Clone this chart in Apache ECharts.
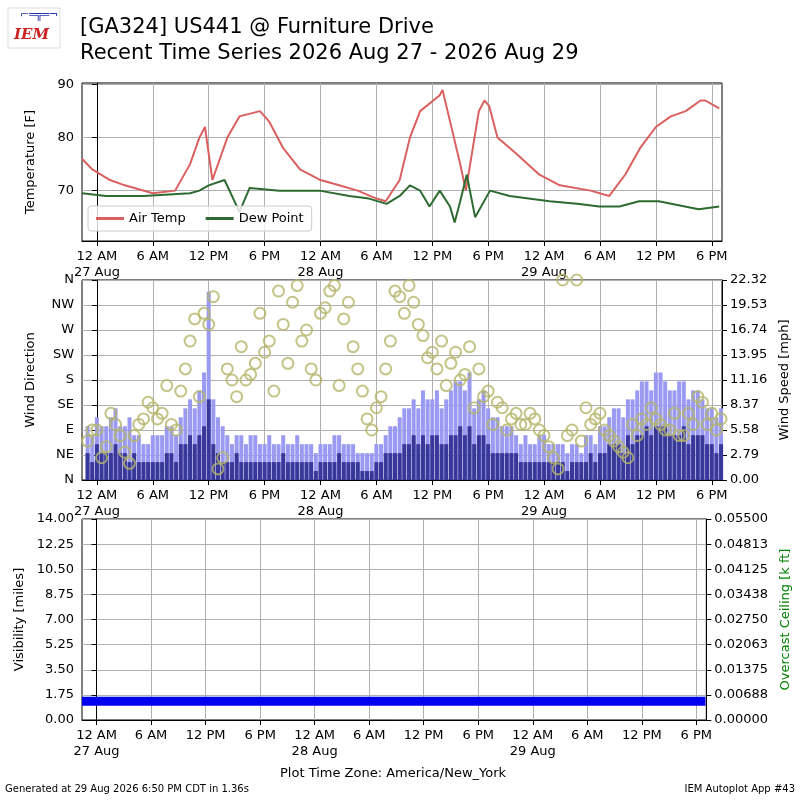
<!DOCTYPE html>
<html><head><meta charset="utf-8">
<script src="https://cdn.jsdelivr.net/npm/echarts@6/dist/echarts.min.js"></script>
<style>body{margin:0}#c{width:800px;height:800px}</style></head>
<body><div id="c"></div>
<script>
// hours relative to 27 Aug 00:00 America/New_York
const tempTimes=[-1.6,-0.5,1.4,3,6,8.4,10,11,11.6,12.4,14,15.3,17.5,18.5,20,21.8,24,26,28,30,31,32.5,33.6,34.7,36.8,37.1,39,39.6,41,41.6,42.1,43,45,47.5,49.7,53,55,56.7,58.3,60,61.6,63.2,64.8,65.3,66.8];
const airTemp=[76,74,72,71,69.5,70,75,80,82,72,80,84,85,83,78,74,72,71,70,68.5,68,72,80,85,88,89,75,70,85,87,86,80,77,73,71,70,69,73,78,82,84,85,87,87,85.5];
const dewTimes=[-1.6,1,5,10,11,12,13.7,15.3,16.4,19.6,23.9,27.1,29.2,31.1,32.5,33.6,34.7,35.7,36.8,37.9,38.4,39,39.7,40.6,42.2,44.3,48.6,51.8,53.9,56.1,58.2,60.3,64.6,66.8];
const dewPoint=[69.5,69,69,69.5,70,71,72,66,70.5,70,70,69,68.5,67.5,69,71,70,67,70,67,64,68,73,65,70,69,68,67.5,67,67,68,68,66.5,67];
const windHours=[-1,0,1,2,3,4,5,6,7,8,9,10,11,12,13,14,15,16,17,18,19,20,21,22,23,24,25,26,27,28,29,30,31,32,33,34,35,36,37,38,39,40,41,42,43,44,45,46,47,48,49,50,51,52,53,54,55,56,57,58,59,60,61,62,63,64,65,66,67];
const windGust=[6,7,6,8,6,5,4,5,5,6,7,9,10,21,7,5,5,4,5,4,4,5,4,4,4,4,4,5,4,3,3,4,5,6,8,9,10,9,8,10,11,12,9,8,7,6,5,5,4,5,4,4,4,3,5,6,7,8,9,10,11,12,11,10,11,10,9,8,8];
const windSpeed=[3,4,3,4,3,3,2,2,2,3,4,5,5,9,3,2,3,2,2,2,2,3,2,2,2,2,2,3,2,2,1,2,3,3,4,5,5,5,4,5,6,6,5,4,3,3,3,2,2,2,2,2,2,2,3,3,4,4,5,5,6,6,6,5,6,5,5,4,4];
const windDir=[70,90,60,100,50,80,110,130,120,100,160,250,150,280,20,200,150,180,210,230,160,280,320,250,200,300,340,170,320,200,110,130,200,340,300,320,260,230,250,210,180,240,200,160,140,90,120,100,110,80,40,360,90,70,100,120,80,60,40,80,100,110,90,120,80,100,140,120,110];
const halfHours=[-0.5,0.5,1.5,2.5,3.5,4.5,5.5,6.5,7.5,8.5,9.5,10.5,11.5,12.5,13.5,14.5,15.5,16.5,17.5,18.5,19.5,20.5,21.5,22.5,23.5,24.5,25.5,26.5,27.5,28.5,29.5,30.5,31.5,32.5,33.5,34.5,35.5,36.5,37.5,38.5,39.5,40.5,41.5,42.5,43.5,44.5,45.5,46.5,47.5,48.5,49.5,50.5,51.5,52.5,53.5,54.5,55.5,56.5,57.5,58.5,59.5,60.5,61.5,62.5,63.5,64.5,65.5,66.5];
const windGust2=[5,6,7,6,7,5,4,5,6,5,8,8,12,9,6,4,5,5,4,5,4,4,5,4,3,4,5,4,4,3,3,4,6,7,8,8,9,10,9,11,10,8,10,7,6,6,4,4,5,4,4,3,4,5,4,6,8,7,9,11,10,12,10,11,9,10,8,7];
const windSpeed2=[2,3,3,3,2,2,2,2,3,2,4,4,6,4,2,2,2,2,2,2,2,2,2,2,1,2,2,2,2,1,1,2,3,3,4,4,4,5,4,5,5,4,5,3,3,3,2,2,2,2,2,1,2,2,2,3,4,3,4,5,5,6,5,5,4,5,4,3];
const windDir2=[90,40,120,80,30,100,140,110,170,90,200,290,300,330,40,180,240,190,300,250,340,210,350,270,180,310,350,290,240,160,90,150,250,330,350,280,220,200,170,230,190,130,150,100,130,110,100,120,90,60,20,80,360,130,110,90,70,50,100,110,130,100,90,80,120,150,100,90];
const visTimes=[-1.6,6,12,18,24,30,36,42,48,54,60,67];
const visibility=[1.3,1.3,1.3,1.3,1.3,1.3,1.3,1.3,1.3,1.3,1.3,1.3];
const tickHours=[0,6,12,18,24,30,36,42,48,54,60,66];
const tickNames={0:'12 AM\n27 Aug',6:'6 AM',12:'12 PM',18:'6 PM',24:'12 AM\n28 Aug',30:'6 AM',36:'12 PM',42:'6 PM',48:'12 AM\n29 Aug',54:'6 AM',60:'12 PM',66:'6 PM'};
const dirNames={0:'N',45:'NE',90:'E',135:'SE',180:'S',225:'SW',270:'W',315:'NW',360:'N'};

const F='DejaVu Sans';
const pairs=(t,v)=>t.map((x,i)=>[x,v[i]]);
const gl={show:true,lineStyle:{color:'#b0b0b0',width:1}};
const axLine={show:true,lineStyle:{color:'#000'}};
function xAx(i){return {type:'value',gridIndex:i,min:-1.6,max:67.1,
  axisLine:axLine,axisTick:{show:true,customValues:tickHours,length:5,lineStyle:{color:'#000'}},
  axisLabel:{customValues:tickHours,formatter:v=>tickNames[v],color:'#000',fontFamily:F,fontSize:13,lineHeight:16},
  splitLine:gl};}
const gb={show:true,borderColor:'#000',borderWidth:1,backgroundColor:'#fff'};
const grids=[Object.assign({left:82,right:78,top:83,height:158},gb),Object.assign({left:82,right:78,top:280,height:200},gb),Object.assign({left:82,right:78,top:519,height:201},gb)];
const c=echarts.init(document.getElementById('c'));
const lab={color:'#000',fontFamily:F,fontSize:13};
const dirStyle={color:'rgba(0,0,0,0)',borderColor:'#b5b56a',borderWidth:2};
c.setOption({
 animation:false,backgroundColor:'#fff',
 grid:grids,
 xAxis:[xAx(0),xAx(1),xAx(2)],
 yAxis:[
  {gridIndex:0,type:'value',min:60.5,max:90.3,axisLine:axLine,axisTick:{customValues:[70,80,90],lineStyle:{color:'#000'}},axisLabel:Object.assign({customValues:[70,80,90]},lab),splitLine:gl,
   name:'Temperature [F]',nameLocation:'middle',nameGap:45,nameTextStyle:lab},
  {gridIndex:1,type:'value',min:0,max:360,interval:45,axisLine:axLine,axisTick:{lineStyle:{color:'#000'}},axisLabel:Object.assign({formatter:v=>dirNames[v]},lab),splitLine:gl,
   name:'Wind Direction',nameLocation:'middle',nameGap:45,nameTextStyle:lab},
  {gridIndex:1,type:'value',position:'right',min:0,max:22.32,interval:2.79,axisLine:axLine,axisTick:{show:true,lineStyle:{color:'#000'}},axisLabel:Object.assign({formatter:v=>v.toFixed(2)},lab),splitLine:{show:false},
   name:'Wind Speed [mph]',nameLocation:'middle',nameGap:50,nameRotate:90,nameTextStyle:lab},
  {gridIndex:2,type:'value',min:0,max:14,interval:1.75,axisLine:axLine,axisTick:{lineStyle:{color:'#000'}},axisLabel:Object.assign({formatter:v=>v.toFixed(2)},lab),splitLine:gl,
   name:'Visibility [miles]',nameLocation:'middle',nameGap:50,nameTextStyle:lab},
  {gridIndex:2,type:'value',position:'right',min:0,max:0.055,interval:0.006875,axisLine:axLine,axisTick:{show:true,lineStyle:{color:'#000'}},axisLabel:Object.assign({formatter:v=>v.toFixed(5)},lab),splitLine:{show:false},
   name:'Overcast Ceiling [k ft]',nameLocation:'middle',nameGap:64,nameRotate:90,nameTextStyle:{color:'green',fontFamily:F,fontSize:13}}
 ],
 legend:{left:88,top:206,itemWidth:28,itemHeight:3,itemGap:20,padding:[6,8],borderColor:'#ccc',borderWidth:1,borderRadius:3,backgroundColor:'rgba(255,255,255,0.8)',
   icon:'rect',textStyle:{fontFamily:F,fontSize:13,color:'#000'},data:['Air Temp','Dew Point']},
 series:[
  {name:'Air Temp',type:'line',xAxisIndex:0,yAxisIndex:0,data:pairs(tempTimes,airTemp),symbol:'none',lineStyle:{color:'#d9605f',width:2},itemStyle:{color:'#d9605f'}},
  {name:'Dew Point',type:'line',xAxisIndex:0,yAxisIndex:0,data:pairs(dewTimes,dewPoint),symbol:'none',lineStyle:{color:'#2e6b30',width:2},itemStyle:{color:'#2e6b30'}},
  {name:'Gust',type:'bar',xAxisIndex:1,yAxisIndex:2,data:pairs(windHours,windGust).concat(pairs(halfHours,windGust2)),barWidth:4,barGap:'-100%',itemStyle:{color:'#9a9af2'}},
  {name:'Speed',type:'bar',xAxisIndex:1,yAxisIndex:2,data:pairs(windHours,windSpeed).concat(pairs(halfHours,windSpeed2)),barWidth:4,barGap:'-100%',itemStyle:{color:'#38389a'}},
  {name:'Dir',type:'scatter',xAxisIndex:1,yAxisIndex:1,data:pairs(windHours,windDir).concat(pairs(halfHours,windDir2)),symbol:'circle',symbolSize:11,itemStyle:dirStyle,z:5},
  {name:'Vis',type:'line',xAxisIndex:2,yAxisIndex:3,data:pairs(visTimes,visibility),symbol:'none',lineStyle:{color:'#0000ee',width:9}}
 ],
 graphic:[
  {type:'text',left:80,top:17,style:{text:'[GA324] US441 @ Furniture Drive',font:'21px "DejaVu Sans"',fill:'#000'}},
  {type:'text',left:80,top:43,style:{text:'Recent Time Series 2026 Aug 27 - 2026 Aug 29',font:'21px "DejaVu Sans"',fill:'#000'}},
  {type:'rect',shape:{x:8,y:8,width:52,height:40},style:{fill:'#fff',stroke:'#ddd'}},
  {type:'text',left:14,top:28,style:{text:'IEM',font:'italic bold 15px "DejaVu Serif"',fill:'#cc2222'}},
  {type:'text',left:20,top:10,style:{text:'⌐═╦═¬',font:'11px "DejaVu Sans"',fill:'#2233aa'}},
  {type:'text',left:280,top:767,style:{text:'Plot Time Zone: America/New_York',font:'13px "DejaVu Sans"',fill:'#000'}},
  {type:'text',left:5,top:784,style:{text:'Generated at 29 Aug 2026 6:50 PM CDT in 1.36s',font:'10px "DejaVu Sans"',fill:'#000'}},
  {type:'text',right:5,top:784,style:{text:'IEM Autoplot App #43',font:'10px "DejaVu Sans"',fill:'#000'}}
 ]
});
</script></body></html>
